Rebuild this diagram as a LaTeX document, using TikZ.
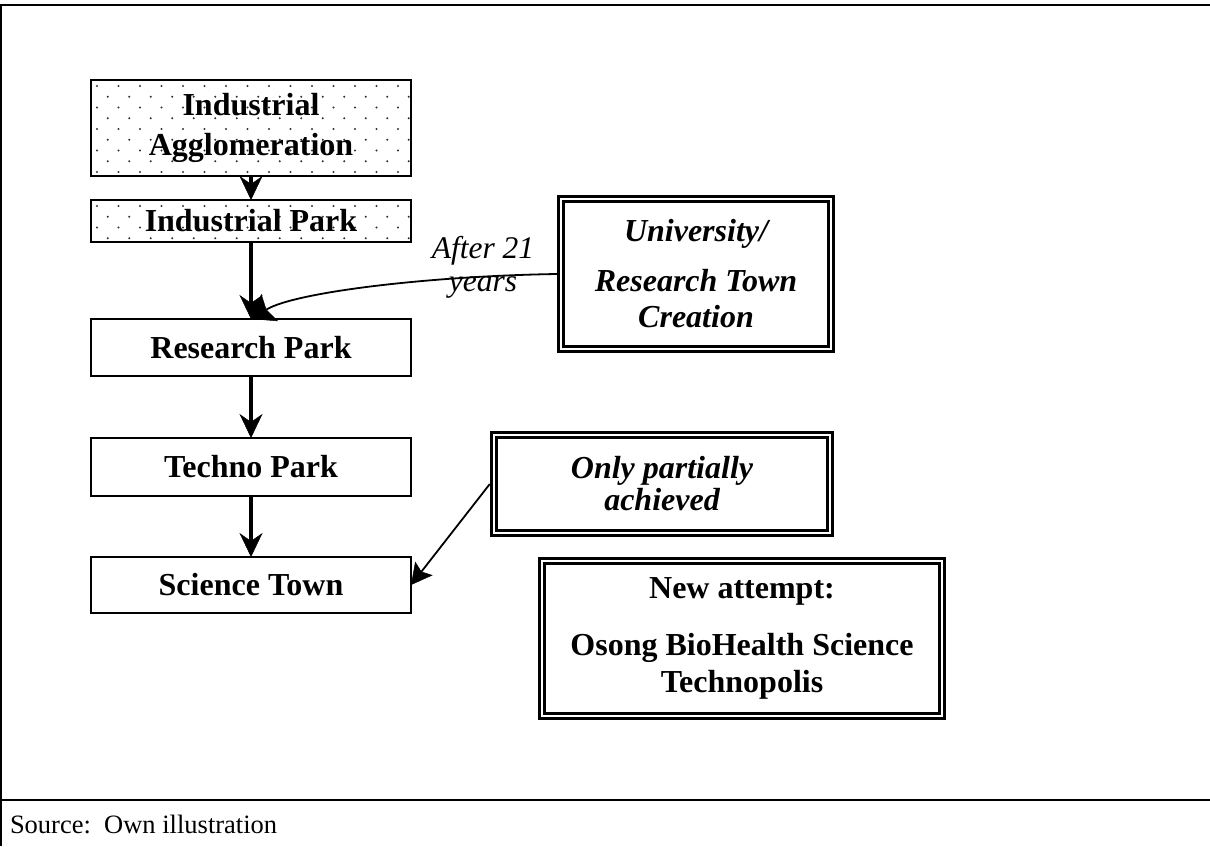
\documentclass[tikz,border=0pt]{standalone}
\usepackage{fontspec}
\setmainfont{Liberation Serif}
\usetikzlibrary{arrows.meta,calc}

\tikzset{
  every node/.style={inner sep=0pt, outer sep=0pt},
  stage/.style={draw, line width=2.2pt, fill=white, minimum width=320pt,
    align=center, font=\fontsize{32}{36}\selectfont\bfseries},
  notebox/.style={draw, double, line width=2.8pt, double distance=2.2pt,
    fill=white, align=center, font=\fontsize{32}{36}\selectfont\bfseries},
  dotfill/.style={path picture={
    \foreach \j in {0,...,10} {
      \pgfmathsetmacro{\off}{mod(\j,2)*10.75}
      \foreach \i in {0,...,15} {
        \fill[black!80] ($(path picture bounding box.north west)+(\i*21.5+\off+6,\j*10.75+6)$) circle (1.2pt);
      }
    }
  }},
  vflow/.style={line width=3.3pt,
    -{Stealth[length=24pt,width=23pt,inset=8pt,line width=0.5pt]}},
  thinflow/.style={line width=1.8pt,
    -{Stealth[length=22pt,width=32pt,inset=4pt,line width=0.5pt]}},
  leader/.style={line width=1.8pt,
    -{Stealth[length=21pt,width=22pt,inset=4pt,line width=0.5pt]}},
  frame/.style={line width=2.6pt}
}

\begin{document}
\begin{tikzpicture}[x=1pt,y=-1pt]
  \useasboundingbox (0,0) rectangle (1210,846);

  % frame and footer rule
  \draw[frame] (0,5) -- (1210,5);
  \draw[line width=2pt] (1,5) -- (1,846);
  \draw[frame] (0,800) -- (1210,800);
  \node[font=\fontsize{26.5}{30}\selectfont, anchor=base west] (src) at (10,833) {Source:\ \ Own illustration};

  % development stages
  \node[stage, dotfill, minimum height=96pt] (ia) at (251,128) {Industrial\\[4pt]Agglomeration};
  \node[stage, dotfill, minimum height=42pt] (ip) at (251,221) {Industrial Park};
  \node[stage, minimum height=57pt] (rp) at (251,347.5) {Research Park};
  \node[stage, minimum height=58pt] (tp) at (251,467) {Techno Park};
  \node[stage, minimum height=56pt] (st) at (251,585) {Science Town};

  \draw[vflow] (ia) -- (ip);
  \draw[vflow] (ip) -- (rp);
  \draw[vflow] (rp) -- (tp);
  \draw[vflow] (tp) -- (st);

  % side notes
  \node[notebox, font=\fontsize{32}{36}\selectfont\bfseries\itshape,
        minimum width=270.6pt, minimum height=150.6pt] (univ) at (696,274)
        {University/\\[14pt]Research Town\\Creation};
  \node[notebox, font=\fontsize{32}{36}\selectfont\bfseries\itshape,
        minimum width=336.6pt, minimum height=98.6pt] (op) at (662,484)
        {Only partially\\[-4pt]achieved};
  \node[notebox, minimum width=400.6pt, minimum height=155.6pt] (na) at (742,638.5)
        {New attempt:\\[21pt]Osong BioHealth Science\\[1pt]Technopolis};

  \node[font=\fontsize{31.5}{33}\selectfont\itshape, align=center] (yrs) at (483,267) {After 21\\years};

  \draw[thinflow] ([xshift=-3.9pt]univ.west) .. controls (430,276) and (295,292) .. (rp.north);
  \draw[leader] ([xshift=-3.9pt]op.west) -- (st.east);
\end{tikzpicture}
\end{document}
